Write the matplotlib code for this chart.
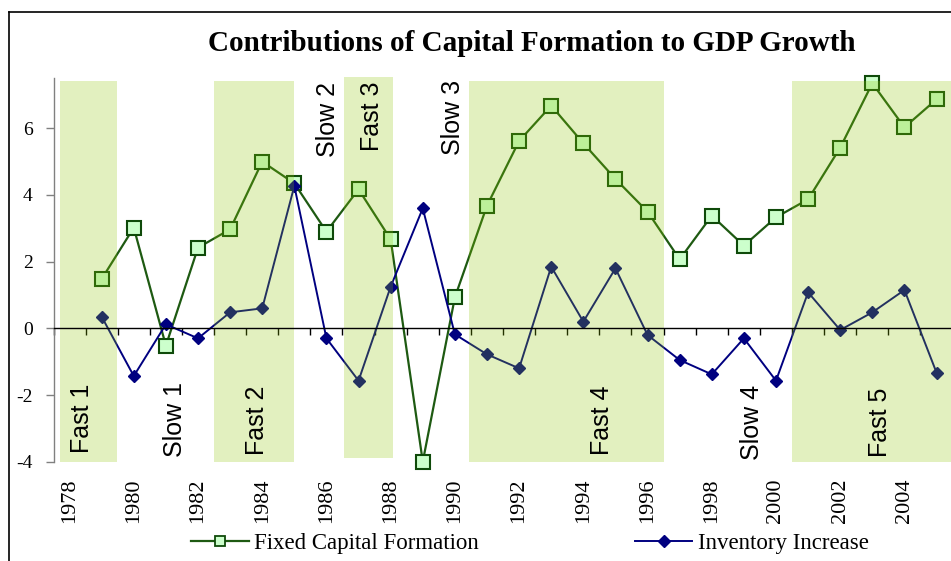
import numpy as np
import matplotlib
matplotlib.use("Agg")
import matplotlib.pyplot as plt
from matplotlib.lines import Line2D
from matplotlib.patches import Rectangle
import matplotlib.transforms as mtransforms

plt.rcParams['axes.unicode_minus'] = False

# ---------------- data ----------------
categories = list(range(1978, 2006))          # category axis (1978..2005)
data_years = list(range(1979, 2006))          # years with observations
fixed_capital = [1.48, 3.02, -0.52, 2.42, 2.97, 5.00, 4.35, 2.90, 4.17, 2.67,
                 -4.00, 0.93, 3.68, 5.62, 6.68, 5.55, 4.48, 3.50, 2.07, 3.38,
                 2.48, 3.33, 3.87, 5.42, 7.35, 6.03, 6.87]
inventory = [0.35, -1.43, 0.12, -0.30, 0.48, 0.60, 4.27, -0.30, -1.57, 1.25,
             3.60, -0.18, -0.78, -1.20, 1.85, 0.20, 1.80, -0.20, -0.95, -1.38,
             -0.30, -1.57, 1.08, -0.05, 0.48, 1.15, -1.33]
tick_labels = [str(y) for y in categories[::2]]
y_ticks = [-4, -2, 0, 2, 4, 6]

# shaded growth phases (in year units on the category axis)
band_start = [1977.70, 1982.49, 1986.55, 1990.45, 2000.49]
band_end = [1979.47, 1984.98, 1988.06, 1996.51, 2005.60]
band_bottom = [-4.0, -4.0, -3.88, -4.0, -4.0]
band_top = [7.42, 7.42, 7.55, 7.42, 7.42]

phase_labels = ["Fast 1", "Slow 1", "Fast 2", "Slow 2", "Fast 3",
                "Slow 3", "Fast 4", "Slow 4", "Fast 5"]
phase_x = [1978.38, 1981.29, 1983.85, 1986.06, 1987.41,
           1989.95, 1994.57, 1999.24, 2003.23]
phase_y = [-3.74, -3.85, -3.80, 7.40, 7.40, 7.45, -3.80, -3.95, -3.85]
phase_va = ["bottom", "bottom", "bottom", "top", "top", "top",
            "bottom", "bottom", "bottom"]

# ---------------- figure ----------------
W, H = 951, 561
fig = plt.figure(figsize=(W / 100, H / 100), dpi=100)

ax_left = 53.5 / W
ax_right = 952.6 / W
ax_bottom = 1 - 461.7 / H
ax_top = 1 - 78.3 / H
ax = fig.add_axes([ax_left, ax_bottom, ax_right - ax_left, ax_top - ax_bottom])

x0 = categories[0]
xd = [y - x0 for y in data_years]

# lines
ax.plot(xd, fixed_capital, color="#1e5a12", lw=1.6, marker="s", ms=9.5,
        mfc="#ccffcc", mec="#0f4a0a", mew=1.5, zorder=3,
        label="Fixed Capital Formation", clip_on=False)
ax.plot(xd, inventory, color="#000080", lw=1.4, marker="D", ms=6.3,
        mfc="#000080", mec="#000080", zorder=3,
        label="Inventory Increase", clip_on=False)

# bands (semi-transparent, drawn over the lines like the original)
for s, e, b, t in zip(band_start, band_end, band_bottom, band_top):
    ax.add_patch(Rectangle((s - x0, b), e - s, t - b, facecolor="#8fc703",
                           alpha=0.25, edgecolor="none", zorder=4,
                           clip_on=False))

# phase labels
for lab, px, py, va in zip(phase_labels, phase_x, phase_y, phase_va):
    ax.text(px - x0, py, lab, rotation=90, ha="center", va=va,
            fontsize=18, family="Liberation Sans", color="black", zorder=6)

# axes styling
ax.set_xlim(-0.5, len(categories) - 0.5)
ax.set_ylim(-4, 7.5)
for sp in ["top", "right"]:
    ax.spines[sp].set_visible(False)
ax.spines["left"].set_color("#808080")
ax.spines["left"].set_linewidth(1.0)
ax.spines["bottom"].set_position(("data", 0))
ax.spines["bottom"].set_color("black")
ax.spines["bottom"].set_linewidth(1.0)
ax.spines["bottom"].set_zorder(5)

ax.set_yticks(y_ticks)
ax.set_yticklabels([str(v) for v in y_ticks], family="Liberation Serif",
                   fontsize=14)
ax.tick_params(axis="y", direction="out", length=6, color="#808080",
               pad=9, width=1)

ax.set_xticks(np.arange(-0.5, len(categories) + 0.5, 1.0))
ax.tick_params(axis="x", direction="out", length=5, color="black",
               labelbottom=False, width=1)

# category labels at the bottom of the plot area
trans = mtransforms.blended_transform_factory(ax.transData, ax.transAxes)
for i, lab in zip(range(0, len(categories), 2), tick_labels):
    ax.text(i, -0.045, lab, rotation=90, ha="center", va="top",
            transform=trans, family="Liberation Serif", fontsize=16)

# title
fig.text(0.559, 0.923, "Contributions of Capital Formation to GDP Growth",
         ha="center", va="center", family="Liberation Serif",
         fontweight="bold", fontsize=21)

# legend
handles = [
    Line2D([], [], color="#1e5a12", lw=1.6, marker="s", ms=7.5,
           mfc="#ccffcc", mec="#0f4a0a", mew=1.3),
    Line2D([], [], color="#000080", lw=1.4, marker="D", ms=6,
           mfc="#000080", mec="#000080"),
]
leg = fig.legend(handles, ["Fixed Capital Formation", "Inventory Increase"],
                 loc="center", bbox_to_anchor=(530 / W, 1 - 543 / H),
                 ncol=2, frameon=False, handlelength=2.5, handletextpad=0.25,
                 columnspacing=6.8,
                 prop={"family": "Liberation Serif", "size": 16.5})

# outer frame (left and top edges visible)
fig.add_artist(Line2D([8.5 / W, 8.5 / W], [0, 1 - 12.3 / H], color="black",
                      lw=1.2, transform=fig.transFigure))
fig.add_artist(Line2D([8.5 / W, 1.0], [1 - 12.3 / H, 1 - 12.3 / H],
                      color="black", lw=1.2, transform=fig.transFigure))

fig.savefig("out.png", dpi=100)
